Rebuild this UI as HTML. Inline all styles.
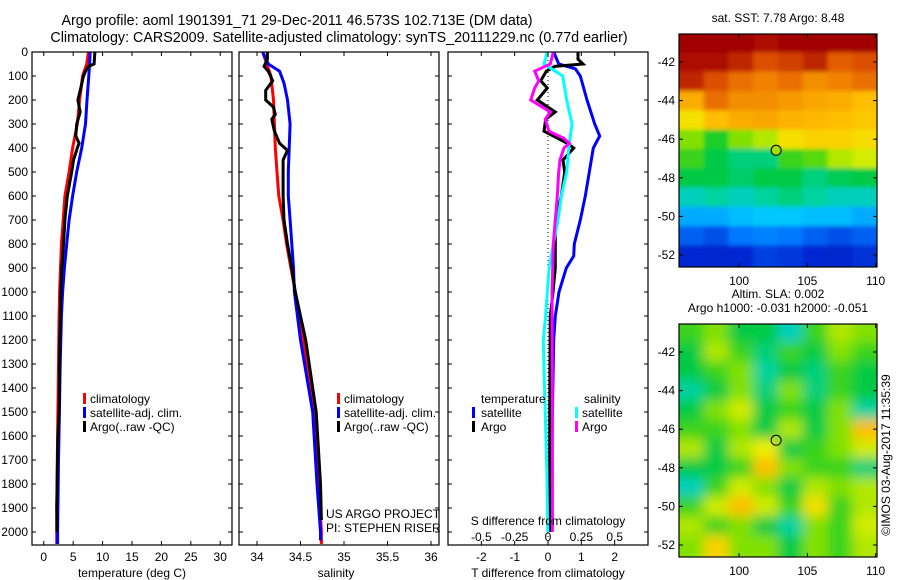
<!DOCTYPE html>
<html><head><meta charset="utf-8">
<style>
html,body{margin:0;padding:0;background:#fff;}
svg{display:block;font-family:"Liberation Sans",sans-serif;}
text{fill:#000;}
</style></head>
<body>
<svg id="fig" width="900" height="580" viewBox="0 0 900 580" xmlns="http://www.w3.org/2000/svg">
<defs>
<clipPath id="c1"><rect x="32" y="52" width="200" height="493"/></clipPath>
<clipPath id="c2"><rect x="239" y="52" width="200" height="493"/></clipPath>
<clipPath id="c3"><rect x="448" y="52" width="200" height="493"/></clipPath>
<clipPath id="cm1"><rect x="679" y="34" width="198" height="233"/></clipPath>
<clipPath id="cm2"><rect x="679" y="324" width="198" height="233"/></clipPath>
<filter id="blur1" x="-5%" y="-5%" width="110%" height="110%"><feGaussianBlur stdDeviation="2"/></filter>
<filter id="blur2" x="-5%" y="-5%" width="110%" height="110%"><feGaussianBlur stdDeviation="6"/></filter>
</defs>
<text x="297" y="25" font-size="14.3" text-anchor="middle">Argo profile: aoml 1901391_71 29-Dec-2011 46.573S 102.713E (DM data)</text>
<text x="339" y="42" font-size="14.3" text-anchor="middle">Climatology: CARS2009. Satellite-adjusted climatology: synTS_20111229.nc (0.77d earlier)</text>
<g id="p1"></g>
<g id="p2"></g>
<g id="p3"></g>
<g id="m1"></g>
<g id="m2"></g>
<text transform="translate(890,455) rotate(-90)" font-size="12" text-anchor="middle">©IMOS 03-Aug-2017 11:35:39</text>
</svg>
<script>
const tDepth=[0,50,100,200,300,400,500,600,700,800,900,1000,1100,1200,1300,1500,1700,2000,2050];
const tClim=[7.6,7.3,6.6,6.1,5.7,4.9,4.3,3.6,3.3,3.0,2.85,2.7,2.6,2.55,2.5,2.4,2.3,2.2,2.2];
const tSat=[7.9,7.8,7.65,7.35,7.1,6.45,5.6,4.9,4.3,3.9,3.5,3.2,3.0,2.9,2.8,2.66,2.5,2.35,2.35];
const tArgoDepth=[0,50,60,80,100,150,200,250,300,350,380,400,450,500,600,700,800,900,1000,1200,1500,1600,1900,2000];
const tArgo=[8.7,8.55,7.6,7.1,6.75,6.3,5.8,6.2,5.6,5.45,6.0,5.7,5.05,4.75,4.0,3.6,3.35,3.06,2.9,2.72,2.6,2.4,2.2,2.25];
const sDepth=[0,100,200,300,400,500,600,700,800,900,1000,1200,1500,1800,2000,2050];
const sClim=[34.065,34.16,34.19,34.2,34.21,34.23,34.25,34.3,34.34,34.39,34.44,34.53,34.66,34.71,34.74,34.74];
const sSatDepth=[0,50,80,130,200,300,400,500,600,700,800,900,1000,1200,1500,1800,2000,2035];
const sSat=[34.065,34.13,34.26,34.31,34.35,34.38,34.37,34.36,34.36,34.38,34.4,34.42,34.43,34.5,34.64,34.69,34.73,34.73];
const sArgoDepth=[0,30,60,80,120,160,200,230,260,280,330,380,410,450,500,600,700,800,900,1000,1200,1500,1800,1950];
const sArgo=[34.12,34.12,34.08,34.13,34.18,34.1,34.1,34.19,34.21,34.17,34.2,34.26,34.35,34.3,34.3,34.3,34.31,34.35,34.4,34.44,34.56,34.68,34.73,34.74];
const dtSatDepth=[0,50,70,100,200,300,350,400,500,600,700,800,850,900,1000,1100,1200,1600,2000];
const dtSat=[0.17,0.32,0.82,0.97,1.17,1.4,1.55,1.36,1.24,1.12,0.97,0.79,0.77,0.55,0.33,0.22,0.17,0.12,0.1];
const dtArgoDepth=[0,30,50,60,80,120,150,200,250,280,330,380,400,450,500,600,700,800,900,1000,1100,1500,2000];
const dtArgo=[0.9,0.9,1.05,0.2,-0.05,-0.22,-0.02,-0.32,0.22,-0.07,-0.12,0.57,0.77,0.45,0.5,0.4,0.22,0.22,0.22,0.15,0.07,0.05,0.05];
const dsSatDepth=[0,50,80,100,200,300,400,500,600,700,800,900,1000,1100,1200,1400,1750,2000];
const dsSat=[-0.006,-0.03,0.055,0.11,0.14,0.18,0.155,0.14,0.1,0.075,0.04,0.008,-0.005,-0.018,-0.035,-0.026,-0.008,-0.002];
const dsArgoDepth=[0,50,80,120,150,200,250,280,330,360,380,400,450,500,600,700,800,900,1000,1500,2000];
const dsArgo=[0.04,0.017,-0.1,-0.07,-0.1,-0.13,0.017,-0.02,0.007,0.12,0.16,0.12,0.09,0.08,0.07,0.055,0.04,0.035,0.03,0.033,0.033];
const depthTicks=[0,100,200,300,400,500,600,700,800,900,1000,1100,1200,1300,1400,1500,1600,1700,1800,1900,2000];
const tTicks=[0,5,10,15,20,25,30];
const sTicks=[34,34.5,35,35.5,36];
const sTickLabels=["34","34.5","35","35.5","36"];
const dTTicks=[-2,-1,0,1,2];
const dSTicks=[-0.5,-0.25,0,0.25,0.5];
const dSTickLabels=["-0.5","-0.25","0","0.25","0.5"];
const mapLats=[-41,-42,-43,-44,-45,-46,-47,-48,-49,-50,-51,-52];
const sstGrid=[
[1,1,1,0.98,1,1,1,1],
[0.98,0.98,0.95,0.9,0.92,0.95,0.88,0.9],
[0.95,0.9,0.85,0.82,0.85,0.8,0.82,0.85],
[0.75,0.85,0.8,0.8,0.78,0.76,0.75,0.72],
[0.65,0.72,0.75,0.76,0.74,0.73,0.72,0.7],
[0.55,0.48,0.55,0.58,0.65,0.68,0.68,0.66],
[0.5,0.45,0.42,0.42,0.5,0.52,0.58,0.6],
[0.45,0.45,0.43,0.45,0.45,0.42,0.44,0.45],
[0.38,0.4,0.38,0.4,0.42,0.4,0.38,0.38],
[0.3,0.3,0.32,0.33,0.33,0.32,0.32,0.3],
[0.22,0.2,0.25,0.26,0.25,0.22,0.2,0.22],
[0.15,0.14,0.15,0.18,0.17,0.15,0.14,0.16]];
const slaGrid=[
[0.5,0.55,0.45,0.45,0.38,0.5,0.58,0.55],
[0.45,0.58,0.5,0.42,0.5,0.45,0.55,0.5],
[0.45,0.5,0.55,0.4,0.45,0.42,0.5,0.45],
[0.4,0.45,0.55,0.42,0.55,0.42,0.5,0.45],
[0.45,0.55,0.6,0.45,0.5,0.45,0.55,0.4],
[0.5,0.5,0.55,0.45,0.58,0.45,0.55,0.72],
[0.58,0.45,0.58,0.62,0.45,0.5,0.55,0.6],
[0.45,0.45,0.5,0.72,0.55,0.5,0.5,0.42],
[0.38,0.5,0.6,0.55,0.45,0.58,0.55,0.58],
[0.5,0.6,0.72,0.6,0.5,0.65,0.5,0.58],
[0.58,0.5,0.55,0.45,0.4,0.55,0.5,0.6],
[0.55,0.68,0.55,0.55,0.45,0.55,0.5,0.58]];
const latTicks=[-42,-44,-46,-48,-50,-52];
const lonTicks=[100,105,110];
const argoLon=102.713, argoLat=-46.573;

const NS='http://www.w3.org/2000/svg';
function mk(tag,attrs,parent){const e=document.createElementNS(NS,tag);for(const k in attrs)e.setAttribute(k,attrs[k]);parent.appendChild(e);return e;}
const yD=d=>52+d*0.24;
function lin(d0,d1,r0,r1){return v=>r0+(v-d0)/(d1-d0)*(r1-r0);}
const x1=lin(-2,32,32,232);
const x2=lin(33.793,36.092,239,439);
const x3=lin(-3,3,448,648);
const x3s=v=>x3(v*4);
const PT=52, PH=493, PB=545;

function line(g,depths,vals,xf,color,clip,name){
  const p=mk('polyline',{points:depths.map((d,i)=>xf(vals[i]).toFixed(1)+','+yD(d).toFixed(1)).join(' '),fill:'none',stroke:color,'stroke-width':3,'clip-path':'url(#'+clip+')'},g);
  
  
}
function frame(g,x,y,w,h,name){
  const r=mk('rect',{x:x,y:y,width:w,height:h,fill:'none',stroke:'#000','stroke-width':1.2},g);
  
  
}
function depthTickMarks(g,xl,xr,labels){
  depthTicks.forEach(d=>{const y=yD(d);
    mk('line',{x1:xl,y1:y,x2:xl+4,y2:y,stroke:'#000'},g);
    mk('line',{x1:xr,y1:y,x2:xr-4,y2:y,stroke:'#000'},g);
    if(labels){const t=mk('text',{x:xl-4,y:y+4,'font-size':12,'text-anchor':'end'},g);t.textContent=d;
      
      }
  });
}
function xTicks(g,vals,labels,xf,yTop,yBot,ly,name){
  vals.forEach((v,i)=>{const x=xf(v);
    mk('line',{x1:x,y1:yTop,x2:x,y2:yTop+4,stroke:'#000'},g);
    mk('line',{x1:x,y1:yBot,x2:x,y2:yBot-4,stroke:'#000'},g);
    if(ly){const t=mk('text',{x:x,y:ly,'font-size':12,'text-anchor':'middle'},g);t.textContent=labels[i];
      
      }
  });
}
function txt(g,x,y,s,name,anchor,size){const t=mk('text',{x:x,y:y,'font-size':size||12,'text-anchor':anchor||'start'},g);t.textContent=s;
  
  return t;}
function legendMark(g,x,y,color,name){const r=mk('rect',{x:x,y:y-10,width:3,height:11,fill:color},g);
  
  }

const p1=document.getElementById('p1');
line(p1,tDepth,tClim,x1,'#ff0000','c1','temp-climatology-line');
line(p1,tDepth,tSat,x1,'#0000ff','c1','temp-satellite-line');
line(p1,tArgoDepth,tArgo,x1,'#000000','c1','temp-argo-line');
frame(p1,32,PT,200,PH,'temp-axes-frame');
depthTickMarks(p1,32,232,true);
xTicks(p1,tTicks,tTicks.map(String),x1,PT,PB,561,'temp-tick-label');
txt(p1,132,577,'temperature (deg C)','temp-x-axis-title','middle');
legendMark(p1,83,403,'#ff0000','legend-climatology-mark');txt(p1,90,403,'climatology','legend-climatology');
legendMark(p1,83,417,'#0000ff','legend-satellite-mark');txt(p1,90,417,'satellite-adj. clim.','legend-satellite');
legendMark(p1,83,431,'#000000','legend-argo-mark');txt(p1,90,431,'Argo(..raw -QC)','legend-argo');

const p2=document.getElementById('p2');
line(p2,sDepth,sClim,x2,'#ff0000','c2','sal-climatology-line');
line(p2,sSatDepth,sSat,x2,'#0000ff','c2','sal-satellite-line');
line(p2,sArgoDepth,sArgo,x2,'#000000','c2','sal-argo-line');
frame(p2,239,PT,200,PH,'sal-axes-frame');
depthTickMarks(p2,239,439,false);
xTicks(p2,sTicks,sTickLabels,x2,PT,PB,561,'sal-tick-label');
txt(p2,336,577,'salinity','sal-x-axis-title','middle');
legendMark(p2,337,403,'#ff0000','legend2-climatology-mark');txt(p2,344,403,'climatology','legend2-climatology');
legendMark(p2,337,417,'#0000ff','legend2-satellite-mark');txt(p2,344,417,'satellite-adj. clim.','legend2-satellite');
legendMark(p2,337,431,'#000000','legend2-argo-mark');txt(p2,344,431,'Argo(..raw -QC)','legend2-argo');
txt(p2,326,518,'US ARGO PROJECT','project-label');
txt(p2,326,532,'PI: STEPHEN RISER','pi-label');

const p3=document.getElementById('p3');
const zl=mk('line',{x1:x3(0),y1:PT,x2:x3(0),y2:PB,stroke:'#000','stroke-dasharray':'1,3'},p3);


line(p3,dtSatDepth,dtSat,x3,'#0000ff','c3','tdiff-satellite-line');
line(p3,dtArgoDepth,dtArgo,x3,'#000000','c3','tdiff-argo-line');
line(p3,dsSatDepth,dsSat,x3s,'#00ffff','c3','sdiff-satellite-line');
line(p3,dsArgoDepth,dsArgo,x3s,'#ff00ff','c3','sdiff-argo-line');
frame(p3,448,PT,200,PH,'diff-axes-frame');
depthTickMarks(p3,448,648,false);
xTicks(p3,dTTicks,dTTicks.map(String),x3,PT,PB,561,'tdiff-tick-label');
dSTicks.forEach((v,i)=>{txt(p3,x3s(v),541,dSTickLabels[i],'sdiff-tick-label','middle');});
txt(p3,548,525,'S difference from climatology','sdiff-axis-title','middle');
txt(p3,548,577,'T difference from climatology','tdiff-axis-title','middle');
txt(p3,481,403,'temperature','legend-temperature-heading');
txt(p3,584,403,'salinity','legend-salinity-heading');
legendMark(p3,472,417,'#0000ff','legend3-tsat-mark');txt(p3,481,417,'satellite','legend3-tsat');
legendMark(p3,472,431,'#000000','legend3-targo-mark');txt(p3,481,431,'Argo','legend3-targo');
legendMark(p3,575,417,'#00ffff','legend3-ssat-mark');txt(p3,582,417,'satellite','legend3-ssat');
legendMark(p3,575,431,'#ff00ff','legend3-sargo-mark');txt(p3,582,431,'Argo','legend3-sargo');

const stops=[[0,[0,0,140]],[0.15,[0,40,210]],[0.25,[0,120,255]],[0.33,[0,200,255]],[0.4,[0,210,160]],[0.46,[0,200,50]],[0.55,[130,225,0]],[0.62,[240,240,0]],[0.72,[255,190,0]],[0.82,[240,130,0]],[0.9,[220,80,0]],[1,[160,0,0]]];
function cmap(v){v=Math.max(0,Math.min(1,v));for(let i=1;i<stops.length;i++){if(v<=stops[i][0]){const a=stops[i-1],b=stops[i],t=(v-a[0])/(b[0]-a[0]);const c=a[1].map((q,j)=>Math.round(q+(b[1][j]-q)*t));return 'rgb('+c.join(',')+')';}}return 'rgb(160,0,0)';}
function drawMap(gid,top,grid,clip,blur,title){
  const g=document.getElementById(gid);
  const xl=lin(95.6,110.1,679,877), yl=lin(-42,-52,top+28,top+221);
  const inner=mk('g',{'clip-path':'url(#'+clip+')'},g);
  const cells=mk('g',{filter:'url(#'+blur+')'},inner);
  const nc=grid[0].length, dLon=(110.1-95.6)/nc;
  grid.forEach((row,ri)=>{row.forEach((v,ci)=>{
    const lon0=95.6+ci*dLon, lat=mapLats[ri];
    const x0=xl(lon0)-(ci==0?20:0), x1e=xl(lon0+dLon)+(ci==nc-1?20:0);
    const y0=yl(lat+0.5)-(ri==0?20:0), y1e=yl(lat-0.5)+(ri==grid.length-1?20:0);
    const r=mk('rect',{x:x0.toFixed(1),y:y0.toFixed(1),width:(x1e-x0+0.6).toFixed(1),height:(y1e-y0+0.6).toFixed(1),fill:cmap(v)},cells);
    
    
  });});
  frame(g,679,top,198,233,gid+'-frame');
  latTicks.forEach(l=>{const y=yl(l);mk('line',{x1:679,y1:y,x2:683,y2:y,stroke:'#000'},g);mk('line',{x1:877,y1:y,x2:873,y2:y,stroke:'#000'},g);
    txt(g,675,y+4,String(l),'lat-tick-label','end');});
  lonTicks.forEach(l=>{const x=xl(l);mk('line',{x1:x,y1:top,x2:x,y2:top+4,stroke:'#000'},g);mk('line',{x1:x,y1:top+233,x2:x,y2:top+229,stroke:'#000'},g);
    txt(g,x,top+251,String(l),'lon-tick-label','middle');});
  const c=mk('circle',{cx:xl(argoLon),cy:yl(argoLat),r:5,fill:gid=='m1'?'#a0e000':'none',stroke:'#000','stroke-width':1},g);
  
  
  title.forEach((s,i)=>txt(g,778,top-12-(title.length-1-i)*14,s,'map-title','middle'));
}
drawMap('m1',34,sstGrid,'cm1','blur1',['sat. SST: 7.78 Argo: 8.48']);
drawMap('m2',324,slaGrid,'cm2','blur2',['Altim. SLA: 0.002','Argo h1000: -0.031 h2000: -0.051']);
</script>
</body></html>
